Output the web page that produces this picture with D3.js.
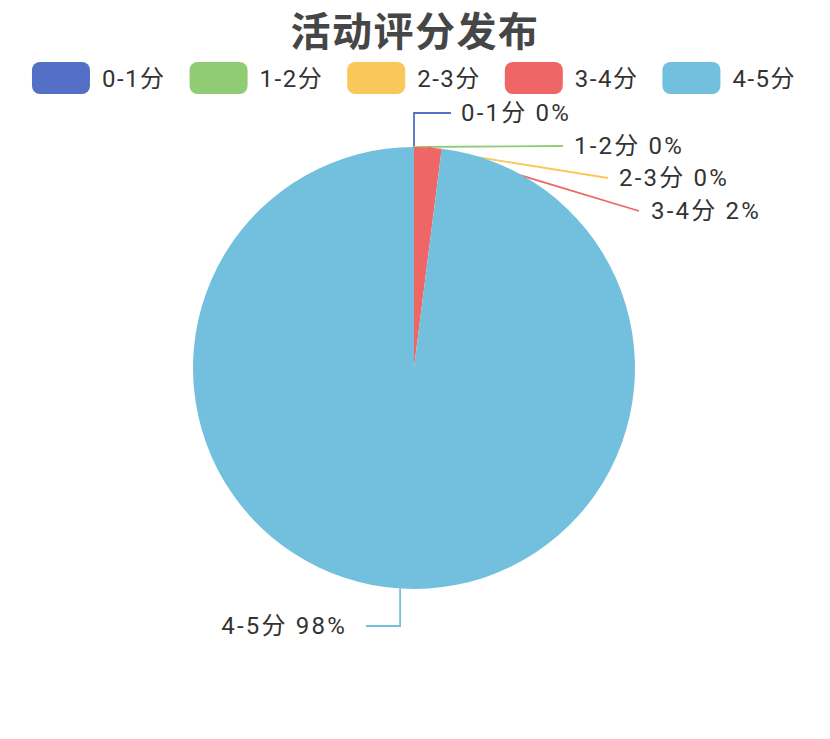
<!DOCTYPE html>
<html>
<head>
<meta charset="utf-8">
<script src="https://cdn.jsdelivr.net/npm/d3@7"></script>
<style>
  html, body { margin: 0; padding: 0; background: #fff; }
  text { font-family: Roboto, "Noto Sans CJK SC", sans-serif; }
</style>
</head>
<body>
<script>
// data
var title = "活动评分发布";
var categories = ["0-1分", "1-2分", "2-3分", "3-4分", "4-5分"];
var values = [0, 0, 0, 2, 98];
var colors = ["#5470c6", "#91cc75", "#fac858", "#ee6666", "#73c0de"];

var width = 830, height = 739,
    cx = 414, cy = 368, radius = 221;

// where each label sits, relative to the pie centre (layout only)
var labelLayout = [
  { elbow: -255, endX: 37,  textX: 47,  y: -255, anchor: "start" },
  { elbow: null, endX: 149, textX: 160, y: -222, anchor: "start" },
  { elbow: null, endX: 194, textX: 205, y: -190, anchor: "start" },
  { elbow: null, endX: 225, textX: 237, y: -157, anchor: "start" },
  { elbow: 258,  endX: -48, textX: -67, y: 258,  anchor: "end" }
];

var svg = d3.select("body").append("svg")
    .attr("width", width).attr("height", height);

svg.append("text")
    .attr("x", 415).attr("y", 29)
    .attr("text-anchor", "middle").attr("dominant-baseline", "central")
    .style("font-size", "40px").style("font-weight", "bold")
    .style("letter-spacing", "1.5px")
    .style("font-family", "'Noto Sans CJK SC', sans-serif")
    .attr("fill", "#464646")
    .text(title);

// legend: boxes and texts laid out one after the other, centred
var legend = svg.selectAll(".legend")
    .data(categories).enter().append("g")
    .attr("class", "legend");
legend.append("rect")
    .attr("width", 58).attr("height", 32).attr("rx", 8).attr("ry", 8)
    .attr("fill", (d, i) => colors[i]);
legend.append("text")
    .attr("x", 70).attr("y", 17)
    .attr("dominant-baseline", "central")
    .style("font-size", "24px").style("letter-spacing", "1.5px")
    .attr("fill", "#333")
    .text(d => d);

var itemGap = 24, offsets = [], pos = 0;
legend.each(function() {
  var w = 70 + d3.select(this).select("text").node().getComputedTextLength();
  offsets.push(pos);
  pos += w + itemGap;
});
var legendStart = 414 - (pos - itemGap) / 2;
legend.attr("transform", (d, i) => "translate(" + (legendStart + offsets[i]) + ",62)");

var pie = d3.pie().sort(null).value(d => d);
var arcs = pie(values);
var total = d3.sum(values);
var arc = d3.arc().innerRadius(0).outerRadius(radius);

var g = svg.append("g").attr("transform", "translate(" + cx + "," + cy + ")");

// label lines go under the pie, like the original
var lines = g.append("g");
arcs.forEach(function(a, i) {
  var mid = (a.startAngle + a.endAngle) / 2,
      ex = radius * Math.sin(mid),
      ey = -radius * Math.cos(mid),
      L = labelLayout[i],
      pts = [[ex, ey]];
  if (L.elbow !== null) pts.push([ex, L.elbow]);
  pts.push([L.endX, L.y]);
  lines.append("path")
      .attr("d", d3.line()(pts))
      .attr("fill", "none")
      .attr("stroke", colors[i])
      .attr("stroke-width", 1.8);
});

g.selectAll("path.slice")
    .data(arcs).enter().append("path")
    .attr("class", "slice")
    .attr("d", arc)
    .attr("fill", (d, i) => colors[i]);

g.selectAll("text.label")
    .data(arcs).enter().append("text")
    .attr("class", "label")
    .attr("x", (d, i) => labelLayout[i].textX)
    .attr("y", (d, i) => labelLayout[i].y)
    .attr("text-anchor", (d, i) => labelLayout[i].anchor)
    .attr("dominant-baseline", "central")
    .style("font-size", "24px").style("letter-spacing", "2.2px")
    .attr("fill", "#333")
    .text((d, i) => categories[i] + " " + Math.round(d.value / total * 100) + "%");
</script>
</body>
</html>
